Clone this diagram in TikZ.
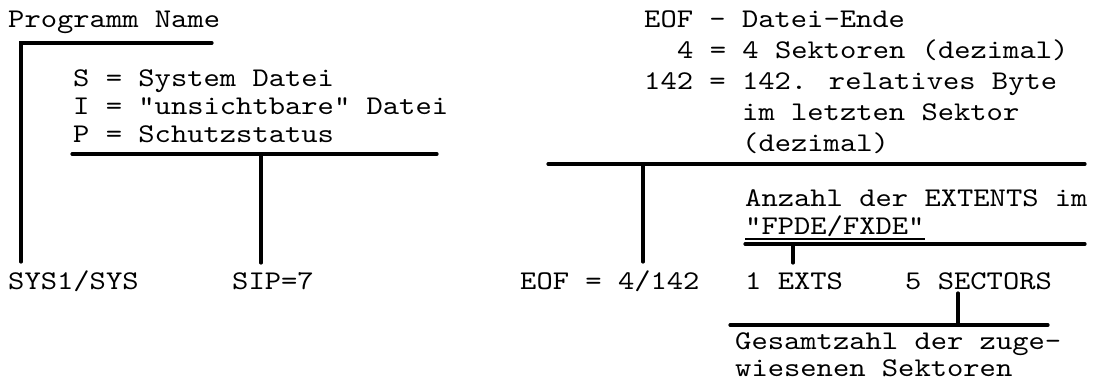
\documentclass[tikz,border=0pt]{standalone}
\usepackage{fontspec}
\newfontfamily\tw{lmmono10-regular.otf}[FakeStretch=1.15]
\begin{document}
\begin{tikzpicture}[x=1pt,y=-1pt,
  txt/.style={anchor=base west,inner sep=0pt,font=\tw\fontsize{27}{30}\selectfont},
  rule/.style={line width=3.2pt,line cap=round},
  thinrule/.style={line width=1.5pt}]
\useasboundingbox (0,0) rectangle (1098,387);
% left block
\node[txt] (prog) at (8,28) {Programm Name};
\node[txt] (s) at (73,87) {S = System Datei};
\node[txt] (i) at (73,115) {I = "unsichtbare" Datei};
\node[txt] (p) at (73,143) {P = Schutzstatus};
\node[txt] (sys) at (8,290) {SYS1/SYS};
\node[txt] (sip) at (232,290) {SIP=7};
\coordinate (r1a) at (21,43);
\coordinate (r1b) at (212,43);
\coordinate (r2a) at (72,154);
\coordinate (r2b) at (437,154);
\coordinate (sysTop) at (21,262);
\coordinate (sipTop) at (261,263);
\draw[rule] (r1b) -- (r1a) -- (sysTop);
\draw[rule] (r2a) -- (r2b);
\draw[rule] (sipTop) -- (sipTop |- r2a);
% right block
\node[txt] (eof) at (644,28) {EOF - Datei-Ende};
\node[txt] (four) at (677,59) {4 = 4 Sektoren (dezimal)};
\node[txt] (rel) at (644,90) {142 = 142. relatives Byte};
\node[txt] (im) at (742,121) {im letzten Sektor};
\node[txt] (dez) at (742,152) {(dezimal)};
\node[txt] (eofv) at (520,290) {EOF = 4/142};
\node[txt] (anz) at (745,207) {Anzahl der EXTENTS im};
\node[txt] (fpde) at (745,235) {"FPDE/FXDE"};
\node[txt] (exts) at (745,290) {1 EXTS};
\node[txt] (sect) at (905,290) {5 SECTORS};
\node[txt] (ges) at (735,350) {Gesamtzahl der zuge-};
\node[txt] (wies) at (735,377) {wiesenen Sektoren};
\coordinate (r3a) at (548,164);
\coordinate (r3b) at (1085,164);
\coordinate (eofTop) at (643,262);
\coordinate (r4a) at (745,244);
\coordinate (r4b) at (1085,244);
\coordinate (extsTop) at (793,263);
\coordinate (r5a) at (730,325);
\coordinate (r5b) at (1048,325);
\coordinate (sectTop) at (958,293);
\draw[rule] (r3a) -- (r3b);
\draw[rule] (eofTop) -- (eofTop |- r3a);
\draw[thinrule] ([yshift=-4pt]fpde.base west) -- ([yshift=-4pt]fpde.base east);
\draw[rule] (r4a) -- (r4b);
\draw[rule] (extsTop) -- (extsTop |- r4a);
\draw[rule] (r5a) -- (r5b);
\draw[rule] (sectTop) -- (sectTop |- r5a);
\end{tikzpicture}
\end{document}
